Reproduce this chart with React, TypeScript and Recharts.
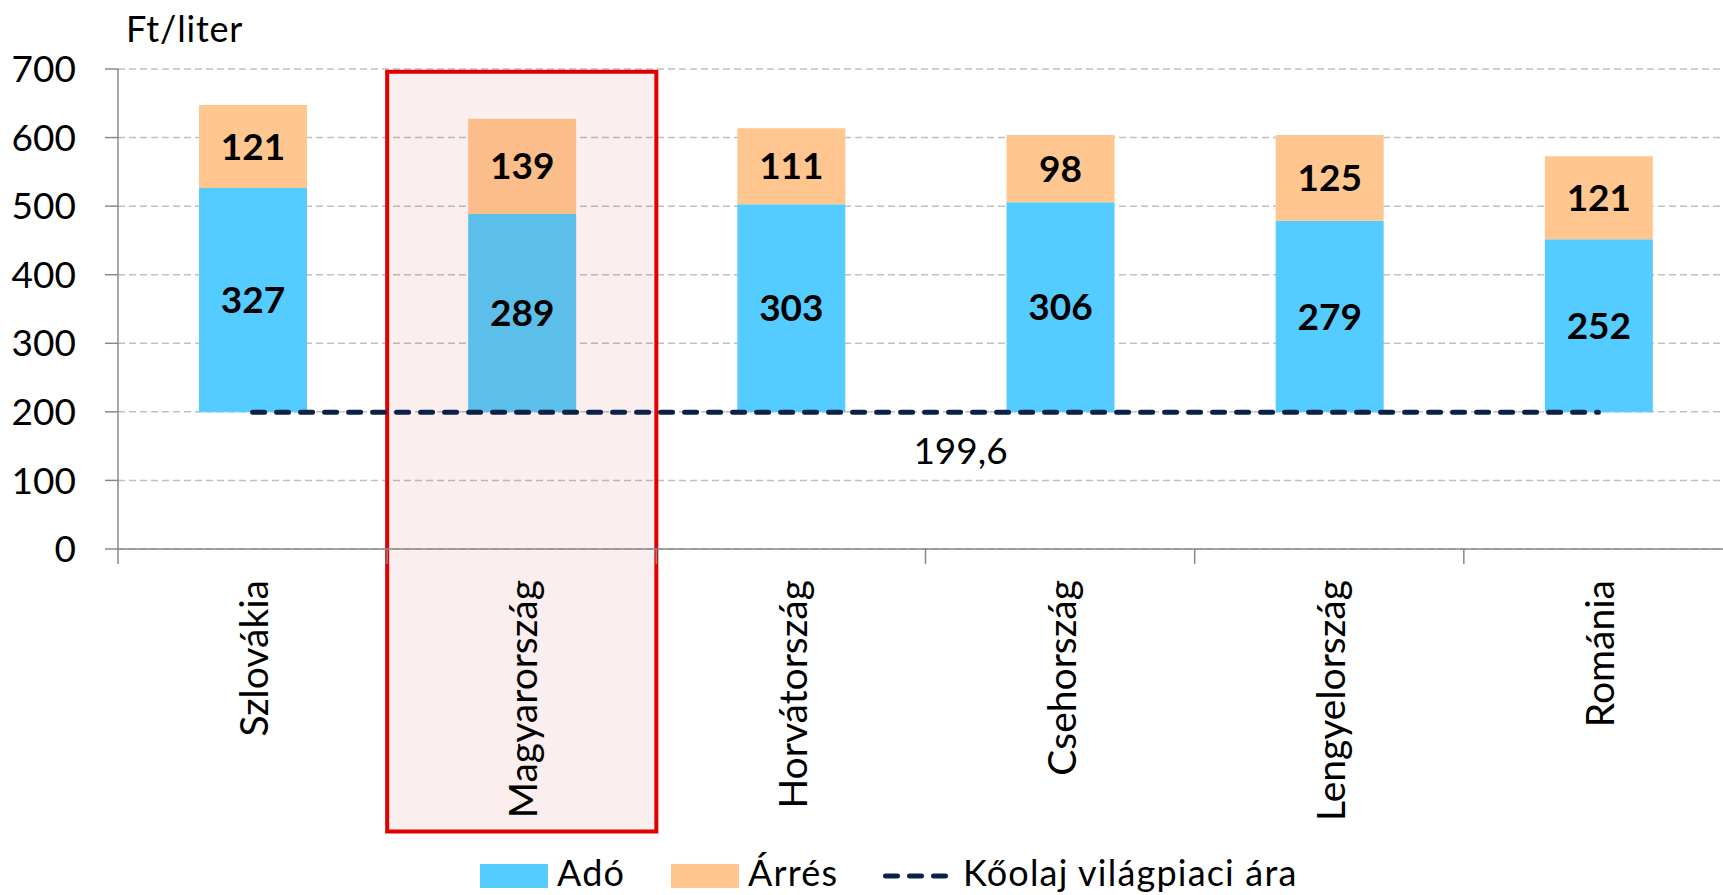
import React from 'react';
import {
  ComposedChart,
  Bar,
  Cell,
  Line,
  XAxis,
  YAxis,
  CartesianGrid,
  ReferenceArea,
  ReferenceLine,
  LabelList,
  Legend,
  Label,
} from 'recharts';

// ---- data ----
const countries = ['Szlovákia', 'Magyarország', 'Horvátország', 'Csehország', 'Lengyelország', 'Románia'];
const ado = [327, 289, 303, 306, 279, 252];
const arres = [121, 139, 111, 98, 125, 121];
const olaj = [199.6, 199.6, 199.6, 199.6, 199.6, 199.6];
const yTicks = [0, 100, 200, 300, 400, 500, 600, 700];
const highlighted = 'Magyarország';
const oilLabel = '199,6';
const unitLabel = 'Ft/liter';
const legendNames = ['Adó', 'Árrés', 'Kőolaj világpiaci ára'];

const data = countries.map((c, i) => ({ country: c, ado: ado[i], arres: arres[i], olaj: olaj[i] }));

// ---- styles ----
const FONT = "Lato, 'Open Sans', sans-serif";
const BLUE = '#55ccff';
const ORANGE = '#ffc68f';
const BLUE_HL = '#5bbfea';
const ORANGE_HL = '#fbbd8a';
const NAVY = '#0c2148';
const AXIS = '#888888';

const XTick = (props: any) => {
  const { x, y, payload, index, visibleTicksCount, width } = props;
  const half = payload && typeof payload.offset === 'number' && payload.offset > 0
    ? payload.offset
    : width / (2 * visibleTicksCount);
  const ty = y + 31;
  return (
    <g>
      <line x1={x - half} x2={x - half} y1={y} y2={y + 15} stroke={AXIS} strokeWidth={1.5} />
      {index === visibleTicksCount - 1 && (
        <line x1={x + half} x2={x + half} y1={y} y2={y + 15} stroke={AXIS} strokeWidth={1.5} />
      )}
      <text
        x={x}
        y={ty}
        transform={`rotate(-90, ${x}, ${ty})`}
        textAnchor="end"
        dy="0.4em"
        fontSize={39}
        fontFamily={FONT}
        fill="#000"
      >
        {payload.value}
      </text>
    </g>
  );
};

const legendText = { fontSize: 36, fontFamily: FONT, fill: '#000', letterSpacing: 1.2 } as const;

const LegendContent = () => (
  <svg width={900} height={43} style={{ overflow: 'visible', display: 'block' }}>
    <rect x={0} y={12} width={68} height={24} fill={BLUE} />
    <text x={77} y={34} {...legendText}>{legendNames[0]}</text>
    <rect x={191} y={12} width={68} height={24} fill={ORANGE} />
    <text x={268} y={34} {...legendText}>{legendNames[1]}</text>
    <line x1={405.5} x2={465.5} y1={24} y2={24} stroke={NAVY} strokeWidth={5} strokeDasharray="12 12" strokeLinecap="round" />
    <text x={483} y={34} {...legendText}>{legendNames[2]}</text>
  </svg>
);

export default function App() {
  return (
    <div style={{ position: 'absolute', left: 0, top: 0, width: 1723, height: 895, overflow: 'hidden', background: '#fff' }}>
      <ComposedChart
        width={1760}
        height={895}
        data={data}
        margin={{ top: 69, right: 27, bottom: 0, left: 18 }}
      >
        <CartesianGrid vertical={false} stroke="#c0c0c0" strokeDasharray="7 4" strokeWidth={1.5} />
        <ReferenceArea
          x1={highlighted}
          x2={highlighted}
          y1={-412}
          y2={696}
          ifOverflow="visible"
          fill="#c20000"
          fillOpacity={0.067}
          stroke="#e00000"
          strokeWidth={4}
          strokeOpacity={1}
        />
        <XAxis
          dataKey="country"
          height={346}
          interval={0}
          tickSize={0}
          tickMargin={0}
          tickLine={false}
          axisLine={{ stroke: AXIS, strokeWidth: 1.5 }}
          tick={<XTick />}
        />
        <YAxis
          width={100}
          domain={[0, 700]}
          ticks={yTicks}
          interval={0}
          tickSize={13}
          tickMargin={29}
          axisLine={{ stroke: AXIS, strokeWidth: 1.5 }}
          tickLine={{ stroke: AXIS, strokeWidth: 1.5 }}
          tick={{ fontSize: 37, fontFamily: FONT, fill: '#000' }}
        >
          <Label
            content={(p: any) => (
              <text
                x={p.viewBox.x + p.viewBox.width + 8}
                y={p.viewBox.y - 27}
                fontSize={36}
                letterSpacing={0.8}
                fontFamily={FONT}
                fill="#000"
              >
                {unitLabel}
              </text>
            )}
          />
        </YAxis>
        <Bar dataKey="olaj" stackId="a" fill="none" barSize={108} isAnimationActive={false} legendType="none" />
        <Bar dataKey="ado" name={legendNames[0]} stackId="a" fill={BLUE} barSize={108} isAnimationActive={false}>
          {data.map((d) => (
            <Cell key={d.country} fill={d.country === highlighted ? BLUE_HL : BLUE} />
          ))}
          <LabelList dataKey="ado" position="center" fill="#000" fontSize={37} fontWeight="bold" fontFamily={FONT} />
        </Bar>
        <Bar dataKey="arres" name={legendNames[1]} stackId="a" fill={ORANGE} barSize={108} isAnimationActive={false}>
          {data.map((d) => (
            <Cell key={d.country} fill={d.country === highlighted ? ORANGE_HL : ORANGE} />
          ))}
          <LabelList dataKey="arres" position="center" fill="#000" fontSize={37} fontWeight="bold" fontFamily={FONT} />
        </Bar>
        <Line
          dataKey="olaj"
          name={legendNames[2]}
          type="linear"
          stroke={NAVY}
          strokeWidth={5}
          strokeDasharray="12 12"
          strokeLinecap="round"
          dot={false}
          activeDot={false}
          isAnimationActive={false}
        />
        <ReferenceLine
          y={olaj[0]}
          stroke="none"
          strokeOpacity={0}
          label={(p: any) => (
            <text
              x={p.viewBox.x + p.viewBox.width / 2 + 35}
              y={p.viewBox.y + 52}
              textAnchor="middle"
              fontSize={37}
              fontFamily={FONT}
              fill="#000"
            >
              {oilLabel}
            </text>
          )}
        />
        <Legend
          layout="horizontal"
          verticalAlign="middle"
          align="center"
          wrapperStyle={{ left: 480, top: 852, width: 900, height: 43 }}
          content={() => <LegendContent />}
        />
      </ComposedChart>
    </div>
  );
}
